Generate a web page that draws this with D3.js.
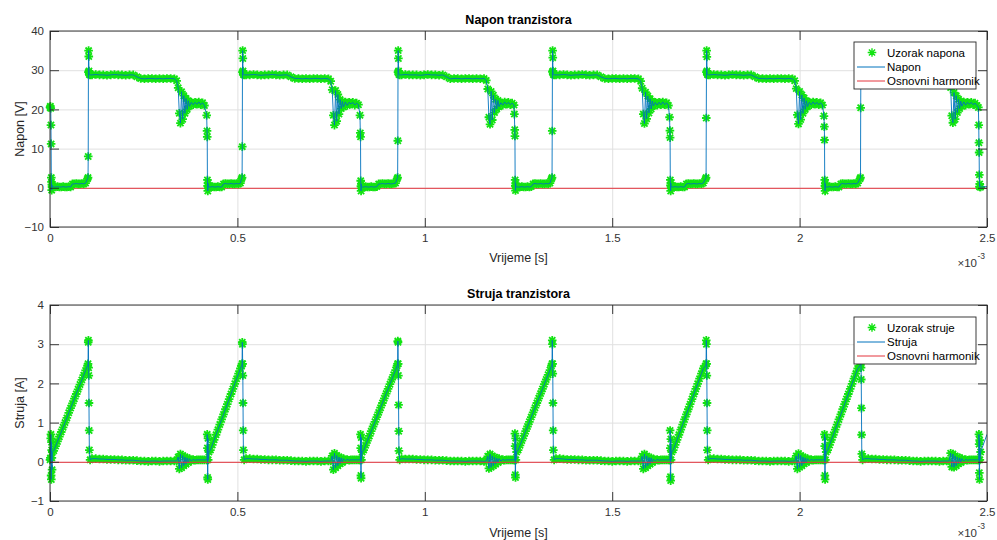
<!DOCTYPE html>
<html>
<head>
<meta charset="utf-8">
<script src="https://cdn.jsdelivr.net/npm/d3@7"></script>
<style>
  html, body { margin: 0; padding: 0; background: #fff; }
  svg { display: block; }
  text { font-family: "Liberation Sans", Arial, Helvetica, sans-serif; }
</style>
</head>
<body>
<svg id="chart" width="997" height="540"></svg>
<script>
// ---------------- DATA (time in ms, shown with x10^-3 s) ----------------
const xTicks = [0, 0.5, 1, 1.5, 2, 2.5];
const xTickLabels = ["0", "0.5", "1", "1.5", "2", "2.5"];
const voltTicks = [-10, 0, 10, 20, 30, 40];
const currTicks = [-1, 0, 1, 2, 3, 4];

const titles = ["Napon tranzistora", "Struja tranzistora"];
const yLabels = ["Napon [V]", "Struja [A]"];
const xLabel = "Vrijeme [s]";
const legendVolt = ["Uzorak napona", "Napon", "Osnovni harmonik"];
const legendCurr = ["Uzorak struje", "Struja", "Osnovni harmonik"];

// period 0
const tP0 = [0,0.001,0.002,0.0025,0.003,0.0035,0.004,0.0045,0.005,0.0055,0.006,
 0.010,0.015,0.020,0.025,0.030,0.035,0.040,0.045,0.050,0.055,0.060,0.065,0.070,0.075,0.080,0.085,0.090,0.095,0.100,
 0.1015,0.102,0.1025,0.103,0.1035,0.104,0.1045,0.105,0.107,
 0.112,0.122,0.132,0.142,0.152,0.162,0.172,0.182,0.192,0.202,0.212,0.222,
 0.232,
 0.242,0.252,0.262,0.272,0.282,0.292,0.302,0.312,0.322,0.332,
 0.338,0.342,0.345,0.348,0.351,0.354,0.357,0.360,0.363,0.366,0.369,0.372,0.377,0.382,0.387,0.392,0.397,0.402,0.407,0.412,
 0.418,0.419,0.4195,0.420,0.4205,0.421,0.4215,0.422,0.424];
const vP0 = [20.5,20.8,20.3,16.0,11.2,2.6,1.5,-0.6,0.8,0.2,0.4,
 0.2,0.2,0.3,0.2,0.2,0.3,0.2,0.2,0.3,0.2,1.0,1.0,1.1,1.0,1.0,1.1,1.0,1.2,2.3,
 2.6,8.0,29.5,35.0,33.5,29.8,29.2,28.9,28.8,
 28.8,28.9,28.8,28.8,28.7,28.8,28.9,28.8,28.8,28.7,28.8,28.8,
 28.3,
 27.9,27.8,27.9,27.9,27.8,27.9,27.8,27.9,27.9,27.8,
 27.3,25.5,19.0,16.5,24.5,17.5,23.5,19.0,22.8,20.0,22.2,20.8,21.8,21.2,21.8,21.3,21.9,21.2,21.7,21.0,
 18.5,14.5,13.0,2.0,0.5,-0.8,1.2,0.3,0.2];
const iP0 = [0.05,0.1,0.6,0.7,-0.35,-0.45,0.5,0.3,0.1,-0.2,0.25,
 0.28,0.40,0.52,0.64,0.76,0.88,1.00,1.12,1.25,1.37,1.49,1.61,1.73,1.85,1.97,2.09,2.21,2.33,2.45,
 2.5,3.05,3.1,2.4,2.2,1.5,0.8,0.3,0.05,
 0.08,0.08,0.07,0.07,0.06,0.06,0.06,0.05,0.05,0.04,0.04,0.04,
 0.03,
 0.02,0.02,0.01,0.02,0.02,0.01,0.02,0.02,0.02,0.02,
 0.02,0.12,-0.18,0.2,-0.15,0.16,-0.1,0.12,-0.06,0.1,-0.02,0.08,0.02,0.06,0.04,0.05,0.05,0.05,0.05,0.05,
 0.05,0.05,0.7,0.35,-0.4,-0.45,0.6,0.05,0.25];

// period 1
const tP1 = [0.428,0.433,0.438,0.443,0.448,0.453,0.458,0.463,0.468,0.473,0.478,0.483,0.488,0.493,0.498,0.503,0.508,0.511,
 0.5125,0.513,0.5135,0.514,0.5145,0.515,0.5155,0.516,0.518,
 0.523,0.533,0.543,0.553,0.563,0.573,0.583,0.593,0.603,0.613,0.623,0.633,
 0.643,
 0.653,0.663,0.673,0.683,0.693,0.703,0.713,0.723,0.733,0.743,
 0.749,0.753,0.756,0.759,0.762,0.765,0.768,0.771,0.774,0.777,0.780,0.783,0.788,0.793,0.798,0.803,0.808,0.813,0.818,0.823,
 0.827,0.828,0.8285,0.829,0.8295,0.830,0.8305,0.831,0.833];
const vP1 = [0.2,0.3,0.2,0.2,0.3,0.2,0.2,1.0,1.1,1.0,1.0,1.1,1.0,1.0,1.1,1.0,1.2,2.3,
 2.6,10.5,29.5,35.0,33.0,29.8,29.2,28.9,28.8,
 28.8,28.8,28.9,28.8,28.7,28.8,28.8,28.9,28.8,28.7,28.8,28.8,
 28.3,
 27.9,27.9,27.8,27.9,27.8,27.9,27.9,27.8,27.9,27.8,
 27.2,25.0,18.5,16.0,24.8,17.0,23.8,18.8,22.5,20.2,22.0,20.6,21.9,21.0,21.8,21.4,21.8,21.1,21.6,21.2,
 18.5,14.0,13.0,1.8,0.4,-0.8,1.0,0.3,0.2];
const iP1 = [0.30,0.43,0.56,0.69,0.82,0.95,1.08,1.21,1.34,1.47,1.60,1.73,1.86,1.99,2.12,2.25,2.38,2.45,
 2.5,3.05,3.0,2.5,2.2,1.5,0.8,0.3,0.05,
 0.08,0.08,0.07,0.07,0.06,0.06,0.05,0.05,0.05,0.04,0.04,0.04,
 0.03,
 0.02,0.02,0.02,0.01,0.02,0.02,0.02,0.01,0.02,0.02,
 0.02,0.15,-0.2,0.22,-0.15,0.16,-0.1,0.12,-0.05,0.1,-0.02,0.08,0.03,0.06,0.04,0.05,0.05,0.05,0.05,0.05,
 0.05,0.05,0.7,0.35,-0.35,-0.42,0.62,0.05,0.25];

// period 2
const tP2 = [0.837,0.842,0.847,0.852,0.857,0.862,0.867,0.872,0.877,0.882,0.887,0.892,0.897,0.902,0.907,0.912,0.917,0.922,0.926,
 0.9275,0.928,0.9285,0.929,0.9295,0.930,0.9305,0.931,0.933,
 0.938,0.948,0.958,0.968,0.978,0.988,0.998,1.008,1.018,1.028,1.038,1.048,
 1.058,
 1.068,1.078,1.088,1.098,1.108,1.118,1.128,1.138,1.148,1.158,
 1.164,1.168,1.171,1.174,1.177,1.180,1.183,1.186,1.189,1.192,1.195,1.198,1.203,1.208,1.213,1.218,1.223,1.228,1.233,1.238,
 1.239,1.240,1.2405,1.241,1.2415,1.242,1.2425,1.243,1.245];
const vP2 = [0.2,0.3,0.2,0.2,0.3,0.2,0.2,0.3,1.0,1.0,1.1,1.0,1.0,1.1,1.0,1.0,1.1,1.2,2.3,
 2.6,12.0,29.5,35.0,33.0,29.8,29.2,28.9,28.8,
 28.8,28.9,28.8,28.8,28.8,28.7,28.8,28.9,28.8,28.8,28.7,28.8,
 28.3,
 27.8,27.9,27.9,27.8,27.9,27.9,27.8,27.9,27.8,27.9,
 27.4,25.2,18.0,16.2,24.6,17.3,23.6,19.2,22.6,20.1,22.3,20.7,21.7,21.1,21.9,21.3,21.8,21.2,21.6,21.1,
 18.8,14.8,13.2,2.0,0.5,-0.7,1.1,0.3,0.2];
const iP2 = [0.30,0.42,0.54,0.66,0.78,0.90,1.02,1.14,1.26,1.38,1.50,1.62,1.74,1.86,1.98,2.10,2.22,2.34,2.45,
 2.5,3.08,3.05,2.5,2.2,1.45,0.78,0.28,0.05,
 0.08,0.07,0.07,0.07,0.06,0.06,0.05,0.05,0.05,0.04,0.04,0.04,
 0.03,
 0.02,0.02,0.02,0.02,0.01,0.02,0.02,0.02,0.02,0.01,
 0.02,0.14,-0.17,0.2,-0.14,0.15,-0.1,0.12,-0.06,0.09,-0.02,0.08,0.02,0.06,0.04,0.05,0.05,0.05,0.05,0.05,
 0.05,0.05,0.72,0.4,-0.33,-0.4,0.6,0.05,0.25];

// period 3
const tP3 = [1.249,1.254,1.259,1.264,1.269,1.274,1.279,1.284,1.289,1.294,1.299,1.304,1.309,1.314,1.319,1.324,1.329,1.334,1.338,
 1.3395,1.340,1.3405,1.341,1.3415,1.342,1.3425,1.343,1.345,
 1.350,1.360,1.370,1.380,1.390,1.400,1.410,1.420,1.430,1.440,1.450,1.460,
 1.470,
 1.480,1.490,1.500,1.510,1.520,1.530,1.540,1.550,1.560,1.570,
 1.576,1.580,1.583,1.586,1.589,1.592,1.595,1.598,1.601,1.604,1.607,1.610,1.615,1.620,1.625,1.630,1.635,1.640,1.645,1.650,
 1.653,1.654,1.6545,1.655,1.6555,1.656,1.6565,1.657,1.659];
const vP3 = [0.2,0.2,0.3,0.2,0.2,0.3,0.2,0.3,1.0,1.1,1.0,1.0,1.1,1.0,1.0,1.1,1.0,1.2,2.3,
 2.6,14.5,29.6,35.0,33.2,29.8,29.2,28.9,28.8,
 28.8,28.8,28.9,28.8,28.7,28.8,28.8,28.9,28.8,28.7,28.8,28.8,
 28.3,
 27.9,27.8,27.9,27.9,27.8,27.9,27.8,27.9,27.9,27.8,
 27.2,25.4,18.8,16.4,24.4,17.6,23.4,19.1,22.7,20.1,22.1,20.9,21.8,21.1,21.8,21.2,21.9,21.2,21.7,21.0,
 18.0,14.6,12.8,2.0,0.6,-0.8,1.2,0.3,0.2];
const iP3 = [0.30,0.42,0.54,0.66,0.78,0.90,1.02,1.14,1.26,1.38,1.50,1.62,1.74,1.86,1.98,2.10,2.22,2.34,2.45,
 2.5,3.1,3.0,2.5,2.25,1.5,0.8,0.3,0.05,
 0.08,0.08,0.07,0.06,0.06,0.06,0.05,0.05,0.04,0.04,0.04,0.04,
 0.03,
 0.02,0.02,0.01,0.02,0.02,0.02,0.01,0.02,0.02,0.02,
 0.02,0.14,-0.18,0.2,-0.15,0.15,-0.1,0.11,-0.06,0.1,-0.02,0.07,0.02,0.06,0.04,0.05,0.05,0.05,0.05,0.05,
 0.05,0.05,0.8,0.35,-0.38,-0.48,0.58,0.05,0.25];

// period 4
const tP4 = [1.663,1.668,1.673,1.678,1.683,1.688,1.693,1.698,1.703,1.708,1.713,1.718,1.723,1.728,1.733,1.738,1.743,1.749,
 1.7505,1.751,1.7515,1.752,1.7525,1.753,1.7535,1.754,1.756,
 1.761,1.771,1.781,1.791,1.801,1.811,1.821,1.831,1.841,1.851,1.861,1.871,
 1.881,
 1.891,1.901,1.911,1.921,1.931,1.941,1.951,1.961,1.971,1.981,
 1.987,1.991,1.994,1.997,2.000,2.003,2.006,2.009,2.012,2.015,2.018,2.021,2.026,2.031,2.036,2.041,2.046,2.051,2.056,2.061,
 2.065,2.066,2.0665,2.067,2.0675,2.068,2.0685,2.069,2.071];
const vP4 = [0.2,0.3,0.2,0.2,0.3,0.2,0.2,1.0,1.1,1.0,1.0,1.1,1.0,1.0,1.1,1.0,1.2,2.3,
 2.6,17.8,29.5,35.0,33.4,29.8,29.2,28.9,28.8,
 28.8,28.9,28.8,28.8,28.7,28.8,28.9,28.8,28.8,28.7,28.8,28.8,
 28.3,
 27.9,27.9,27.8,27.9,27.8,27.9,27.9,27.8,27.9,27.8,
 27.3,25.3,18.6,16.3,24.6,17.4,23.7,19.0,22.9,20.0,22.2,20.7,21.8,21.2,21.9,21.3,21.8,21.2,21.7,21.1,
 18.3,15.6,12.2,2.0,0.5,-0.8,1.1,0.3,0.2];
const iP4 = [0.30,0.43,0.56,0.69,0.82,0.95,1.08,1.21,1.34,1.47,1.60,1.73,1.86,1.99,2.12,2.25,2.38,2.45,
 2.5,3.1,3.0,2.5,2.2,1.5,0.8,0.3,0.05,
 0.08,0.08,0.07,0.07,0.06,0.06,0.05,0.05,0.05,0.04,0.04,0.04,
 0.03,
 0.02,0.02,0.02,0.01,0.02,0.02,0.02,0.02,0.01,0.02,
 0.02,0.15,-0.18,0.21,-0.14,0.16,-0.1,0.12,-0.05,0.1,-0.02,0.08,0.02,0.06,0.04,0.05,0.05,0.05,0.05,0.05,
 0.05,0.05,0.7,0.4,-0.35,-0.45,0.62,0.05,0.25];

// period 5
const tP5 = [2.075,2.080,2.085,2.090,2.095,2.100,2.105,2.110,2.115,2.120,2.125,2.130,2.135,2.140,2.145,2.150,2.155,2.161,
 2.1625,2.163,2.1635,2.164,2.1645,2.165,2.1655,2.166,2.168,
 2.173,2.183,2.193,2.203,2.213,2.223,2.233,2.243,2.253,2.263,2.273,2.283,
 2.293,
 2.303,2.313,2.323,2.333,2.343,2.353,2.363,2.373,2.383,2.393,
 2.399,2.403,2.406,2.409,2.412,2.415,2.418,2.421,2.424,2.427,2.430,2.433,2.438,2.443,2.448,2.453,2.458,2.463,2.468,2.473,
 2.477,2.478,2.4785,2.479,2.4795,2.480,2.4805,2.481,2.483];
const vP5 = [0.2,0.3,0.2,0.2,0.3,0.2,0.2,1.0,1.1,1.0,1.0,1.1,1.0,1.0,1.1,1.0,1.2,2.3,
 2.6,20.4,29.5,35.0,33.0,29.8,29.2,28.9,28.8,
 28.8,28.8,28.9,28.8,28.7,28.8,28.8,28.9,28.8,28.7,28.8,28.8,
 28.3,
 27.9,27.8,27.9,27.9,27.8,27.9,27.8,27.9,27.9,27.8,
 27.4,25.6,18.4,16.6,24.3,17.5,23.5,19.2,22.6,20.2,22.1,20.8,21.9,21.1,21.8,21.3,21.8,21.2,21.6,21.0,
 20.5,16.0,11.5,9.0,3.3,0.3,1.0,0.2,0.2];
const iP5 = [0.30,0.43,0.56,0.69,0.82,0.95,1.08,1.21,1.34,1.47,1.60,1.73,1.86,1.99,2.12,2.25,2.38,2.45,
 2.5,3.05,3.0,2.4,2.1,1.37,0.69,0.2,0.05,
 0.08,0.08,0.07,0.07,0.06,0.06,0.05,0.05,0.05,0.04,0.04,0.04,
 0.03,
 0.02,0.02,0.01,0.02,0.02,0.02,0.02,0.01,0.02,0.02,
 0.02,0.22,-0.13,0.2,-0.14,0.15,-0.1,0.12,-0.05,0.1,-0.02,0.08,0.02,0.06,0.04,0.05,0.05,0.05,0.05,0.05,
 0.05,0.05,0.7,0.45,-0.28,-0.45,0.55,0.05,0.25];

// continuous trace continues past the last sample
const tailTime = [2.5];
const tailVolt = [0.3];
const tailCurr = [0.7];

// fundamental harmonic (flat at zero)
const harmTime = [0, 2.5];
const harmVolt = [0, 0];
const harmCurr = [0, 0];

// ---------------- BUILD ----------------
const sampleTime = [].concat(tP0, tP1, tP2, tP3, tP4, tP5);
const sampleVolt = [].concat(vP0, vP1, vP2, vP3, vP4, vP5);
const sampleCurr = [].concat(iP0, iP1, iP2, iP3, iP4, iP5);
const lineTime = sampleTime.concat(tailTime);
const lineVolt = sampleVolt.concat(tailVolt);
const lineCurr = sampleCurr.concat(tailCurr);

const svg = d3.select("#chart");
const FONT = '"Liberation Sans", Arial, Helvetica, sans-serif';
const GREEN = "#12e312";
const BLUE = "#0072BD";
const RED = "#e3343c";
const AX = "#262626";

const x = d3.scaleLinear().domain([0, 2.5]).range([50, 987]);

const panels = [
  { top: 31, bottom: 227, domain: [-10, 40], ticks: voltTicks, samples: sampleVolt, line: lineVolt,
    harm: harmVolt, title: titles[0], ylab: yLabels[0], legend: legendVolt,
    titleY: 24, xlabY: 262, expY: 267, legBox: [854, 42, 122, 47], redOnTop: false },
  { top: 305, bottom: 501, domain: [-1, 4], ticks: currTicks, samples: sampleCurr, line: lineCurr,
    harm: harmCurr, title: titles[1], ylab: yLabels[1], legend: legendCurr,
    titleY: 298, xlabY: 537, expY: 537, legBox: [854, 317, 122, 47], redOnTop: true }
];

const star = "M-4.3,0H4.3M0,-4.3V4.3M-3.1,-3.1L3.1,3.1M-3.1,3.1L3.1,-3.1";

panels.forEach((p, idx) => {
  const y = d3.scaleLinear().domain(p.domain).range([p.bottom, p.top]);
  const W = x.range()[1] - x.range()[0];
  const H = p.bottom - p.top;
  const g = svg.append("g");

  g.append("rect").attr("x", 50).attr("y", p.top).attr("width", W).attr("height", H).attr("fill", "#fff");

  // grid
  const gx = g.append("g").attr("transform", `translate(0,${p.bottom})`)
    .call(d3.axisBottom(x).tickValues(xTicks).tickSize(-H).tickFormat(""));
  const gy = g.append("g").attr("transform", `translate(50,0)`)
    .call(d3.axisLeft(y).tickValues(p.ticks).tickSize(-W).tickFormat(""));
  [gx, gy].forEach(a => {
    a.select(".domain").remove();
    a.selectAll("line").attr("stroke", "#e0e0e0").attr("stroke-width", 1);
  });

  const clipId = "clip" + idx;
  svg.append("clipPath").attr("id", clipId).append("rect")
    .attr("x", 50).attr("y", p.top).attr("width", W).attr("height", H);

  // fundamental harmonic (pixel-aligned like the grid lines)
  const harmLine = d3.line().x((d, i) => x(harmTime[i])).y(d => y(d) + 0.5);
  const drawHarm = () => g.append("path").datum(p.harm)
    .attr("d", harmLine).attr("fill", "none").attr("stroke", RED).attr("stroke-width", 1)
    .attr("clip-path", `url(#${clipId})`);
  if (!p.redOnTop) drawHarm();

  // samples (asterisks)
  g.append("g").selectAll("path").data(p.samples).join("path")
    .attr("d", star)
    .attr("transform", (d, i) => `translate(${x(sampleTime[i]).toFixed(2)},${y(d).toFixed(2)})`)
    .attr("fill", "none").attr("stroke", GREEN).attr("stroke-width", 1.8);

  // continuous trace
  const trace = d3.line().x((d, i) => x(lineTime[i])).y(d => y(d));
  g.append("path").datum(p.line).attr("d", trace)
    .attr("fill", "none").attr("stroke", BLUE).attr("stroke-width", 0.9)
    .attr("stroke-linejoin", "round").attr("clip-path", `url(#${clipId})`);

  if (p.redOnTop) drawHarm();

  // axes with inward ticks
  const axB = g.append("g").attr("transform", `translate(0,${p.bottom})`)
    .call(d3.axisBottom(x).tickValues(xTicks).tickFormat((d, i) => xTickLabels[i])
      .tickSizeInner(-9).tickSizeOuter(0).tickPadding(7));
  const axT = g.append("g").attr("transform", `translate(0,${p.top})`)
    .call(d3.axisTop(x).tickValues(xTicks).tickFormat("").tickSizeInner(-9).tickSizeOuter(0));
  const axL = g.append("g").attr("transform", `translate(50,0)`)
    .call(d3.axisLeft(y).tickValues(p.ticks).tickFormat(d3.format("d"))
      .tickSizeInner(-9).tickSizeOuter(0).tickPadding(6));
  const axR = g.append("g").attr("transform", `translate(${x.range()[1]},0)`)
    .call(d3.axisRight(y).tickValues(p.ticks).tickFormat("").tickSizeInner(-9).tickSizeOuter(0));
  [axB, axT, axL, axR].forEach(a => {
    a.select(".domain").remove();
    a.selectAll("line").attr("stroke", AX).attr("stroke-width", 0.9);
    a.selectAll("text").attr("font-family", FONT).attr("font-size", 11.5).attr("fill", "#333");
  });

  // box
  g.append("rect").attr("x", 50).attr("y", p.top).attr("width", W).attr("height", H)
    .attr("fill", "none").attr("stroke", AX).attr("stroke-width", 0.9);

  // title & labels
  const cx = (x.range()[0] + x.range()[1]) / 2;
  g.append("text").attr("x", cx).attr("y", p.titleY).attr("text-anchor", "middle")
    .attr("font-family", FONT).attr("font-weight", "bold").attr("font-size", 12.5).attr("fill", "#000")
    .text(p.title);
  g.append("text").attr("x", cx).attr("y", p.xlabY).attr("text-anchor", "middle")
    .attr("font-family", FONT).attr("font-size", 12.5).attr("fill", "#262626").text(xLabel);
  g.append("text").attr("transform", `translate(24,${(p.top + p.bottom) / 2}) rotate(-90)`)
    .attr("text-anchor", "middle").attr("font-family", FONT).attr("font-size", 12.5).attr("fill", "#262626")
    .text(p.ylab);
  // exponent
  g.append("text").attr("x", 977).attr("y", p.expY).attr("text-anchor", "end")
    .attr("font-family", FONT).attr("font-size", 11.5).attr("fill", "#333").text("\u00d710");
  g.append("text").attr("x", 977.5).attr("y", p.expY - 8).attr("text-anchor", "start")
    .attr("font-family", FONT).attr("font-size", 8.5).attr("fill", "#333").text("-3");

  // legend
  const [lx, ly, lw, lh] = p.legBox;
  const lg = g.append("g");
  lg.append("rect").attr("x", lx).attr("y", ly).attr("width", lw).attr("height", lh)
    .attr("fill", "#fff").attr("stroke", AX).attr("stroke-width", 0.9);
  const rowY = [ly + 10.5, ly + 25, ly + 39];
  lg.append("path").attr("d", star).attr("transform", `translate(${lx + 18},${rowY[0]})`)
    .attr("fill", "none").attr("stroke", GREEN).attr("stroke-width", 1.4);
  lg.append("line").attr("x1", lx + 3).attr("x2", lx + 31).attr("y1", rowY[1]).attr("y2", rowY[1])
    .attr("stroke", BLUE).attr("stroke-width", 1);
  lg.append("line").attr("x1", lx + 3).attr("x2", lx + 31).attr("y1", rowY[2]).attr("y2", rowY[2])
    .attr("stroke", RED).attr("stroke-width", 1);
  p.legend.forEach((t, i) => {
    lg.append("text").attr("x", lx + 33).attr("y", rowY[i] + 4).attr("font-family", FONT)
      .attr("font-size", 11.5).attr("fill", "#000").text(t);
  });
});
</script>
</body>
</html>
